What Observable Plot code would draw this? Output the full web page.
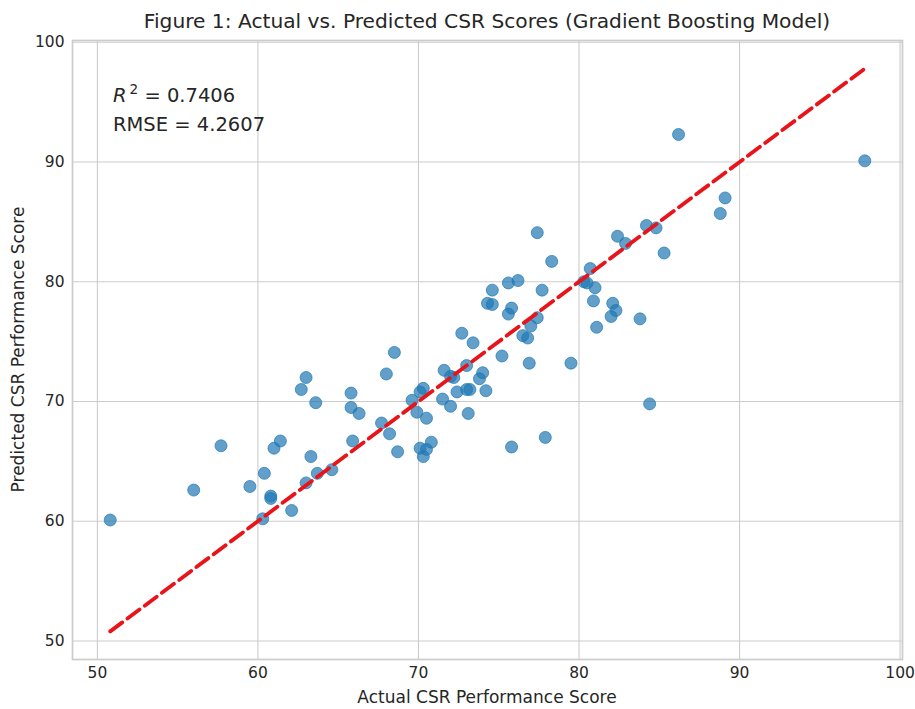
<!DOCTYPE html>
<html><head><meta charset="utf-8">
<script src="https://cdn.jsdelivr.net/npm/d3@7"></script>
<script src="https://cdn.jsdelivr.net/npm/@observablehq/plot@0.6"></script>
<style>
body{margin:0;background:#fff;font-family:"DejaVu Sans",sans-serif;}
#title{height:32px;box-sizing:border-box;padding-top:10px;line-height:22px;font-size:20.2px;color:#262626;text-align:center;width:830px;margin-left:72px;white-space:nowrap;}
#chart svg{display:block;}
</style></head><body>
<div id="title"></div><div id="chart"></div>
<script>
const titleText = "Figure 1: Actual vs. Predicted CSR Scores (Gradient Boosting Model)";
const xLabel = "Actual CSR Performance Score";
const yLabel = "Predicted CSR Performance Score";
const r2Value = "0.7406";
const rmseValue = "4.2607";
const xTicks = [50, 60, 70, 80, 90, 100];
const yTicks = [50, 60, 70, 80, 90, 100];

const actual = [63.0,62.7,63.6,65.8,65.8,66.3,57.7,61.0,61.4,65.9,63.3,60.4,63.7,64.6,63.0,59.5,56.0,60.8,60.8,62.1,60.3,50.8,
77.4,78.3,82.4,82.9,80.7,80.3,80.5,75.6,76.2,77.7,74.6,74.3,74.6,75.8,75.6,77.4,77.0,76.5,76.8,81.0,80.9,81.1,82.1,82.3,82.0,83.8,72.7,73.4,75.2,76.9,79.5,68.5,68.0,71.6,72.0,72.2,73.0,74.0,73.8,70.3,70.1,69.6,72.4,73.0,73.2,74.2,71.5,72.0,69.9,70.5,73.1,67.7,68.2,68.7,70.1,70.5,70.8,70.3,75.8,77.9,86.2,97.8,89.1,88.8,84.2,84.8,85.3,84.4];
const predicted = [72.0,71.0,69.9,70.7,69.5,69.0,66.3,66.1,66.7,66.7,65.4,64.0,64.0,64.3,63.2,62.9,62.6,62.1,61.9,60.9,60.2,60.1,
84.1,81.7,83.8,83.2,81.1,80.0,79.9,79.9,80.1,79.3,79.3,78.2,78.1,77.8,77.3,77.0,76.3,75.5,75.3,79.5,78.4,76.2,78.2,77.6,77.1,76.9,75.7,74.9,73.8,73.2,73.2,74.1,72.3,72.6,72.1,72.0,73.0,72.4,71.9,71.1,70.8,70.1,70.8,71.0,71.0,70.9,70.2,69.6,69.1,68.6,69.0,68.2,67.3,65.8,66.1,66.0,66.6,65.4,66.2,67.0,92.3,90.1,87.0,85.7,84.7,84.5,82.4,69.8];

document.getElementById("title").textContent = titleText;

const data = actual.map((a, i) => ({actual: a, predicted: predicted[i]}));
const ext = d3.extent(actual);
const lineData = [{v: ext[0]}, {v: ext[1]}];
const all = actual.concat(predicted, ext);
const lo = d3.min(all), hi = d3.max(all), m = 0.05 * (hi - lo);
const domain = [lo - m, hi + m];
const xExt = d3.extent(actual.concat(ext)), mx = 0.05 * (xExt[1] - xExt[0]);

const W = 915, H = 677, mL = 72, mR = 13, mT = 8, mB = 50;
const plot = Plot.plot({
  width: W, height: H,
  marginLeft: mL, marginRight: mR, marginTop: mT, marginBottom: mB,
  style: {fontFamily: "DejaVu Sans", fontSize: "15px", color: "#262626", background: "#fff", overflow: "visible"},
  x: {domain: [xExt[0] - mx, xExt[1] + mx]},
  y: {domain},
  marks: [
    Plot.gridX(xTicks, {stroke: "#cccccc", strokeOpacity: 1, strokeWidth: 1.1}),
    Plot.gridY(yTicks, {stroke: "#cccccc", strokeOpacity: 1, strokeWidth: 1.1}),
    Plot.frame({stroke: "#cccccc", strokeWidth: 1.7}),
    Plot.axisX(xTicks, {tickSize: 0, tickPadding: 7, label: null, fontSize: 15.5}),
    Plot.axisY(yTicks, {tickSize: 0, tickPadding: 8, label: null, fontSize: 15.5}),
    Plot.dot(data, {x: "actual", y: "predicted", r: 6, fill: "#1f77b4", fillOpacity: 0.7, stroke: "#1f77b4", strokeOpacity: 0.7, strokeWidth: 1}),
    Plot.line(lineData, {x: "v", y: "v", stroke: "#e8141a", strokeWidth: 3.8, strokeDasharray: "15,6.5"})
  ]
});
document.getElementById("chart").appendChild(plot);

const svg = d3.select(plot);
const fx0 = mL, fx1 = W - mR, fy0 = mT, fy1 = H - mB;
svg.append("text")
  .attr("x", (fx0 + fx1) / 2).attr("y", fy1 + 44)
  .attr("text-anchor", "middle").attr("font-size", 17).attr("fill", "#262626")
  .text(xLabel);
svg.append("text")
  .attr("transform", `translate(24,${(fy0 + fy1) / 2}) rotate(-90)`)
  .attr("text-anchor", "middle").attr("font-size", 17).attr("fill", "#262626")
  .text(yLabel);
const ann = svg.append("text").attr("x", 113).attr("y", 70).attr("text-anchor", "start").attr("font-size", 19.5).attr("fill", "#262626");
ann.append("tspan").attr("font-style", "italic").text("R");
ann.append("tspan").attr("dx", 3).attr("dy", -8).attr("font-size", 13.6).text("2");
ann.append("tspan").attr("dy", 8).text(" = " + r2Value);
svg.append("text").attr("x", 113).attr("y", 99).attr("text-anchor", "start").attr("font-size", 19.5).attr("fill", "#262626")
  .text("RMSE = " + rmseValue);
</script>
</body></html>
